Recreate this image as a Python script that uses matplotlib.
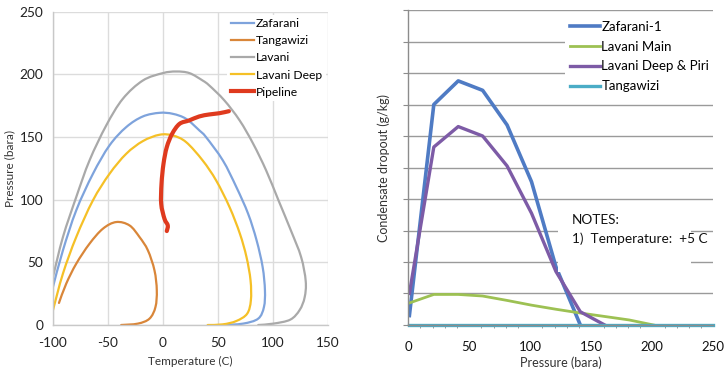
import matplotlib
matplotlib.use("Agg")
import matplotlib.pyplot as plt
from matplotlib.lines import Line2D
from matplotlib.patches import PathPatch, Rectangle
from matplotlib.path import Path
from matplotlib.ticker import MultipleLocator, NullFormatter

plt.rcParams["font.family"] = ["Lato", "DejaVu Sans"]
plt.rcParams["axes.unicode_minus"] = False

# --- phase envelopes (temperature C, pressure bara) ---
lavani_t = [-100, -90.9, -78.8, -66.7, -51.5, -36.4, -18.2, 0.0, 12.1, 24.2, 36.2, 42.3,
            56.0, 69.9, 82.2, 94.0, 105.0, 116.5, 125.8, 130.0, 129.0, 124.5,
            116.0, 100.6, 86.8]
lavani_p = [38.3, 70.2, 102.1, 131.4, 159.3, 180.6, 195.2, 201.1, 202.4, 201.1, 195.2, 191.2,
            179.3, 163.3, 144.7, 123.4, 100.0, 75.5, 54.3, 35.0, 22.0, 12.0,
            4.3, 1.1, 0.0]

zafarani_t = [-100, -90.9, -78.8, -63.6, -48.5, -33.3, -18.2, -3.0, 9.1, 21.2, 33.3, 39.3,
              54.6, 66.9, 77.6, 85.3, 90.8, 92.9, 92.0, 86.8, 73.0, 54.6]
zafarani_p = [30.3, 59.6, 91.5, 120.7, 143.4, 158.0, 166.5, 169.4, 168.6, 164.6, 155.3, 150.0,
              131.4, 110.1, 88.8, 67.6, 46.3, 27.7, 14.4, 5.1, 1.1, 0.0]

deep_t = [-100, -90.9, -78.8, -63.6, -48.5, -33.3, -18.2, -3.0, 9.1, 21.2, 36.2,
          48.5, 60.7, 70.1, 76.1, 79.8, 80.1, 76.7, 66.9, 54.6, 40.8]
deep_p = [11.7, 41.0, 70.2, 99.5, 120.7, 136.7, 146.8, 151.9, 151.3, 146.0, 131.4,
          115.4, 94.1, 72.9, 54.3, 35.6, 19.7, 9.0, 3.2, 0.5, 0.0]

tanga_t = [-94.5, -87.9, -78.8, -66.7, -54.5, -42.4, -30.3, -21.2, -13.6, -7.6, -5.5, -6.7,
           -12.1, -22.7, -37.9]
tanga_p = [17.6, 33.0, 48.9, 64.9, 76.9, 82.2, 79.5, 70.2, 59.6, 43.6, 27.7, 14.4,
           5.1, 1.1, 0.0]

pipe_t = [60.1, 51.5, 42.3, 33.1, 23.9, 15.2, 8.5, 3.6, 0.6, -1.2, -1.5, 1.5, 4.5, 3.6]
pipe_p = [170.7, 169.1, 168.1, 166.5, 163.3, 160.6, 152.7, 142.0, 128.7, 112.8, 96.8, 84.8,
          79.5, 75.0]

# --- condensate dropout at +5 C ---
pressure = [1, 21, 41, 61, 81, 101, 121, 141, 161, 181, 201]
zafarani1_drop = [0.3, 7.0, 7.75, 7.45, 6.35, 4.55, 1.85, 0.0]
lavani_main_drop = [0.7, 0.97, 0.97, 0.92, 0.78, 0.63, 0.5, 0.38, 0.27, 0.16, 0.0]
lavani_deep_piri_drop = [1.0, 5.65, 6.3, 6.0, 5.05, 3.55, 1.7, 0.42, 0.0]
tanga_pressure = [1, 50, 100, 150, 200, 250]
tanga_drop = [0, 0, 0, 0, 0, 0]


def smooth_path(xs, ys):
    """Spreadsheet-style smoothed line: cubic Bezier segments through the points."""
    pts = list(zip(xs, ys))
    n = len(pts)
    verts = [pts[0]]
    codes = [Path.MOVETO]
    for i in range(n - 1):
        p0 = pts[i - 1] if i > 0 else pts[i]
        p1 = pts[i]
        p2 = pts[i + 1]
        p3 = pts[i + 2] if i + 2 < n else pts[i + 1]
        c1 = (p1[0] + (p2[0] - p0[0]) / 6, p1[1] + (p2[1] - p0[1]) / 6)
        c2 = (p2[0] - (p3[0] - p1[0]) / 6, p2[1] - (p3[1] - p1[1]) / 6)
        verts += [c1, c2, p2]
        codes += [Path.CURVE4] * 3
    return Path(verts, codes)


fig = plt.figure(figsize=(7.25, 3.71), dpi=100)

# left: phase envelopes
ax1 = fig.add_axes([0.073, 0.124, 0.379, 0.844])
envelopes = [
    ("Zafarani", zafarani_t, zafarani_p, "#7EA3DC", 1.6),
    ("Tangawizi", tanga_t, tanga_p, "#D98639", 1.6),
    ("Lavani", lavani_t, lavani_p, "#A9A9A9", 1.6),
    ("Lavani Deep", deep_t, deep_p, "#F5C026", 1.6),
    ("Pipeline", pipe_t, pipe_p, "#DF3A1E", 3.0),
]
handles = []
for name, xs, ys, color, lw in envelopes:
    ax1.add_patch(PathPatch(smooth_path(xs, ys), facecolor="none", edgecolor=color,
                            lw=lw, capstyle="round", joinstyle="round"))
    handles.append(Line2D([], [], color=color, lw=lw, label=name))
ax1.set_xlim(-100, 150)
ax1.set_ylim(0, 250)
ax1.xaxis.set_major_locator(MultipleLocator(50))
ax1.yaxis.set_major_locator(MultipleLocator(50))
ax1.grid(True, color="#DCDCDC", lw=1.0)
ax1.set_axisbelow(True)
for s in ["top", "right"]:
    ax1.spines[s].set_visible(False)
for s in ["left", "bottom"]:
    ax1.spines[s].set_color("#C8C8C8")
    ax1.spines[s].set_linewidth(1.0)
ax1.tick_params(length=0, labelsize=9.8, colors="#222222")
ax1.tick_params(axis="x", pad=9)
ax1.tick_params(axis="y", pad=7)
ax1.set_xlabel("Temperature (C)", fontsize=8.5, color="#333333", labelpad=4.5)
ax1.set_ylabel("Pressure (bara)", fontsize=8.5, color="#333333", labelpad=3)
leg1 = ax1.legend(handles=handles, loc="upper right", bbox_to_anchor=(1.015, 1.01),
                  fontsize=8.7, frameon=True, fancybox=False, edgecolor="none",
                  framealpha=1, handlelength=1.9, handletextpad=0.2, labelspacing=0.5,
                  borderpad=0.3)

# right: condensate dropout
ax2 = fig.add_axes([0.563, 0.124, 0.421, 0.849])
ax2.plot(pressure[:len(zafarani1_drop)], zafarani1_drop, color="#4F7BC4", lw=2.6,
         label="Zafarani-1")
ax2.plot(pressure, lavani_main_drop, color="#9DC153", lw=2.0, label="Lavani Main")
ax2.plot(pressure[:len(lavani_deep_piri_drop)], lavani_deep_piri_drop, color="#7D5BA6",
         lw=2.4, label="Lavani Deep & Piri")
ax2.plot(tanga_pressure, tanga_drop, color="#4BACC6", lw=2.4, label="Tangawizi",
         clip_on=False)
ax2.set_xlim(0, 250)
ax2.set_ylim(0, 10)
ax2.xaxis.set_major_locator(MultipleLocator(50))
ax2.xaxis.set_minor_locator(MultipleLocator(10))
ax2.yaxis.set_major_locator(MultipleLocator(1))
ax2.yaxis.set_major_formatter(NullFormatter())
ax2.grid(True, axis="y", color="#9A9A9A", lw=1.0)
ax2.set_axisbelow(True)
for s in ["top", "right"]:
    ax2.spines[s].set_visible(False)
for s in ["left", "bottom"]:
    ax2.spines[s].set_color("#8C8C8C")
    ax2.spines[s].set_linewidth(1.0)
ax2.tick_params(axis="x", which="major", length=0, labelsize=9.5, colors="#111111", pad=11.5)
ax2.tick_params(axis="x", which="minor", length=2.5, color="#8C8C8C", direction="out")
ax2.tick_params(axis="y", length=3.5, color="#8C8C8C", direction="out")
ax2.set_xlabel("Pressure (bara)", fontsize=9, color="#333333", labelpad=2.5)
ax2.set_ylabel("Condensate dropout (g/kg)", fontsize=9, color="#333333", labelpad=6)

leg2 = ax2.legend(loc="upper right", bbox_to_anchor=(1.025, 1.004), fontsize=9.5,
                  frameon=True, fancybox=False, edgecolor="none", framealpha=1,
                  handlelength=2.27, handletextpad=0.1, labelspacing=0.6,
                  borderpad=0.4)

# notes box
ax2.add_patch(Rectangle((0.49, 0.168), 0.435, 0.185, transform=ax2.transAxes,
                        facecolor="white", edgecolor="none", zorder=2))
ax2.text(0.537, 0.333, "NOTES:", transform=ax2.transAxes, fontsize=9.8, color="#111111",
         va="center", zorder=3)
ax2.text(0.537, 0.273, "1)  Temperature:  +5 C", transform=ax2.transAxes, fontsize=9.8,
         color="#111111", va="center", zorder=3)

fig.savefig("out.png", dpi=100)
